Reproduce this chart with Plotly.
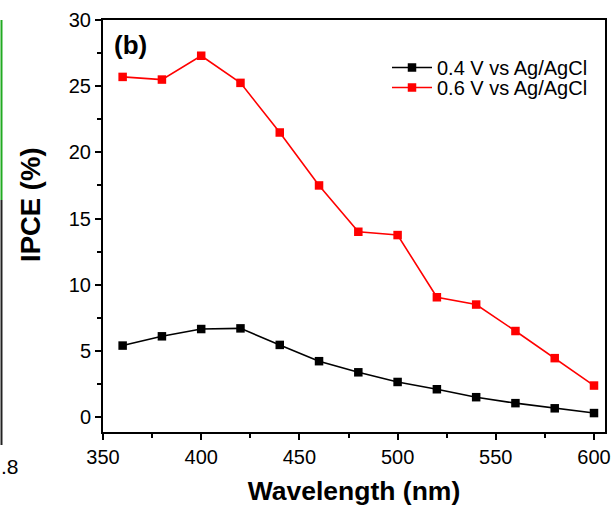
import plotly.graph_objects as go

wavelength = [360, 380, 400, 420, 440, 460, 480, 500, 520, 540, 560, 580, 600]
ipce_04V = [5.4, 6.1, 6.65, 6.7, 5.45, 4.22, 3.38, 2.65, 2.1, 1.5, 1.05, 0.66, 0.3]
ipce_06V = [25.7, 25.5, 27.3, 25.25, 21.5, 17.5, 14.0, 13.75, 9.05, 8.5, 6.5, 4.45, 2.38]
series_names = ["0.4 V vs Ag/AgCl", "0.6 V vs Ag/AgCl"]
x_ticks = [350, 400, 450, 500, 550, 600]
y_ticks = [0, 5, 10, 15, 20, 25, 30]

W, H = 611, 509
ML, MR, MT, MB = 103, 6, 20, 77
PW, PH = W - ML - MR, H - MT - MB

def px(x):
    return (x - ML) / PW

def py(y):
    return (H - MB - y) / PH

FONT = "Arial, Liberation Sans, sans-serif"

fig = go.Figure()
fig.add_trace(go.Scatter(x=wavelength, y=ipce_04V, name=series_names[0], mode="lines+markers",
                         line=dict(color="black", width=1.6), showlegend=True,
                         marker=dict(symbol="square", size=8.5, color="black"), legend="legend"))
fig.add_trace(go.Scatter(x=wavelength, y=ipce_06V, name=series_names[1], mode="lines+markers",
                         line=dict(color="#ff0000", width=1.6), showlegend=True,
                         marker=dict(symbol="square", size=8.5, color="#ff0000"), legend="legend2"))

axis_common = dict(showline=True, linecolor="black", linewidth=2, mirror=True,
                   ticks="outside", ticklen=6, tickwidth=2, tickcolor="black",
                   showgrid=False, zeroline=False, automargin=False,
                   tickfont=dict(family=FONT, size=20, color="black"))

fig.update_xaxes(range=[350, 605.6], tickvals=x_ticks,
                 minor=dict(dtick=25, ticks="outside", ticklen=4, tickwidth=2, tickcolor="black", showgrid=False),
                 title=dict(text="<b>Wavelength (nm)</b>", font=dict(family=FONT, size=26.5, color="black"), standoff=14),
                 **axis_common)
fig.update_yaxes(range=[-1.13, 30], tickvals=y_ticks,
                 minor=dict(dtick=2.5, ticks="outside", ticklen=4, tickwidth=2, tickcolor="black", showgrid=False),
                 **axis_common)

fig.add_annotation(x=px(30), y=py(205), xref="paper", yref="paper", text="<b>IPCE (%)</b>",
                   showarrow=False, textangle=-90, xanchor="center", yanchor="middle",
                   font=dict(family=FONT, size=27.5, color="black"))
fig.add_annotation(x=px(112), y=py(45), xref="paper", yref="paper", text="<b>(b)</b>",
                   showarrow=False, xanchor="left", yanchor="middle",
                   font=dict(family=FONT, size=26, color="black"))
fig.add_annotation(x=px(-1), y=py(466), xref="paper", yref="paper", text=".8",
                   showarrow=False, xanchor="left", yanchor="middle",
                   font=dict(family=FONT, size=21, color="black"))
fig.add_shape(type="line", xref="paper", yref="paper", x0=px(1.5), x1=px(1.5), y0=py(20), y1=py(200),
              line=dict(color="#22aa22", width=2))
fig.add_shape(type="line", xref="paper", yref="paper", x0=px(1.5), x1=px(1.5), y0=py(200), y1=py(445),
              line=dict(color="#222222", width=2))

leg_common = dict(xanchor="left", yanchor="top", bgcolor="rgba(0,0,0,0)", visible=True,
                  font=dict(family=FONT, size=20, color="black"), itemwidth=40)
fig.update_layout(width=W, height=H, margin=dict(l=ML, r=MR, t=MT, b=MB, autoexpand=False),
                  plot_bgcolor="white", paper_bgcolor="white", showlegend=True,
                  legend=dict(x=px(387), y=py(48), **leg_common),
                  legend2=dict(x=px(387), y=py(68), **leg_common))

fig.write_html("out.html", config={"displayModeBar": False},
               post_script="document.body.style.margin='0';document.body.style.overflow='hidden';")
